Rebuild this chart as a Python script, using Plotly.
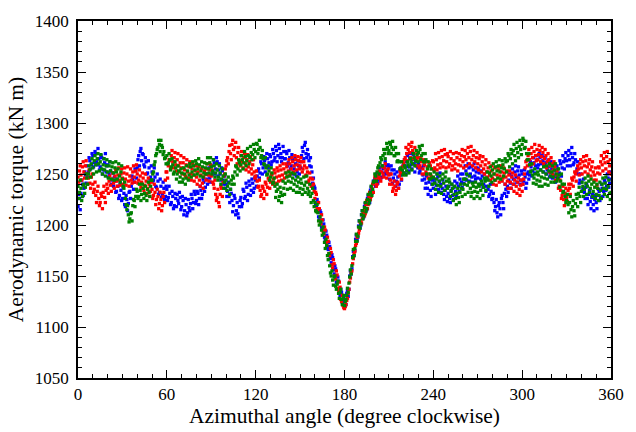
import plotly.graph_objects as go

# Azimuthal angle (degrees): readings at whole degrees and at half degrees
angle = list(range(0, 361))
angle_half = [a + 0.5 for a in range(0, 360)]

torque_blue = [
    1218, 1226, 1231, 1240, 1236, 1249, 1258, 1252, 1263, 1259,
    1268, 1261, 1270, 1259, 1265, 1257, 1266, 1254, 1261, 1252,
    1259, 1250, 1253, 1244, 1238, 1243, 1233, 1238, 1229, 1234,
    1226, 1231, 1218, 1225, 1221, 1233, 1238, 1245, 1242, 1253,
    1256, 1268, 1272, 1263, 1269, 1257, 1262, 1251, 1256, 1247,
    1252, 1244, 1247, 1237, 1243, 1232, 1238, 1230, 1236, 1228,
    1235, 1227, 1231, 1222, 1228, 1219, 1226, 1230, 1221, 1227,
    1218, 1224, 1214, 1220, 1212, 1217, 1221, 1226, 1222, 1230,
    1224, 1231, 1226, 1234, 1230, 1242, 1237, 1245, 1250, 1246,
    1258, 1252, 1261, 1255, 1262, 1254, 1250, 1256, 1244, 1248,
    1240, 1233, 1228, 1235, 1224, 1219, 1226, 1214, 1211, 1218,
    1227, 1221, 1233, 1228, 1237, 1230, 1239, 1234, 1241, 1236,
    1244, 1248, 1255, 1251, 1260, 1256, 1263, 1258, 1265, 1261,
    1267, 1262, 1270, 1266, 1273, 1268, 1275, 1270, 1266, 1272,
    1265, 1270, 1261, 1266, 1258, 1264, 1255, 1260, 1252, 1258,
    1262, 1268, 1272, 1278, 1270, 1274, 1263, 1266, 1252, 1246,
    1236, 1219, 1222, 1205, 1212, 1196, 1201, 1186, 1190, 1176,
    1179, 1163, 1168, 1152, 1157, 1143, 1145, 1131, 1134, 1124,
    1127, 1122, 1136, 1137, 1155, 1157, 1174, 1175, 1190, 1188,
    1204, 1200, 1214, 1208, 1221, 1215, 1229, 1222, 1237, 1233,
    1242, 1238, 1248, 1244, 1252, 1247, 1255, 1251, 1258, 1254,
    1257, 1250, 1254, 1246, 1250, 1243, 1247, 1240, 1249, 1253,
    1251, 1258, 1262, 1257, 1265, 1259, 1264, 1260, 1266, 1258,
    1260, 1253, 1256, 1249, 1245, 1241, 1236, 1242, 1234, 1240,
    1236, 1242, 1239, 1247, 1243, 1240, 1236, 1230, 1234, 1228,
    1231, 1226, 1234, 1229, 1237, 1233, 1241, 1238, 1245, 1242,
    1250, 1245, 1253, 1249, 1256, 1250, 1247, 1254, 1248, 1252,
    1246, 1251, 1245, 1248, 1240, 1244, 1238, 1235, 1230, 1233,
    1226, 1222, 1218, 1212, 1219, 1216, 1226, 1222, 1231, 1235,
    1238, 1244, 1241, 1248, 1245, 1252, 1247, 1253, 1249, 1244,
    1250, 1243, 1247, 1241, 1252, 1249, 1257, 1253, 1261, 1258,
    1264, 1259, 1266, 1260, 1263, 1258, 1261, 1254, 1257, 1251,
    1255, 1249, 1253, 1247, 1255, 1251, 1260, 1256, 1262, 1265,
    1263, 1268, 1264, 1270, 1266, 1261, 1264, 1255, 1250, 1244,
    1242, 1236, 1232, 1237, 1226, 1230, 1223, 1227, 1220, 1225,
    1222, 1229, 1233, 1227, 1236, 1233, 1242, 1238, 1246, 1241,
    1245,
]

torque_blue_half = [
    1230, 1215, 1244, 1229, 1252, 1241, 1247, 1266, 1255, 1270,
    1257, 1272, 1262, 1275, 1254, 1268, 1250, 1265, 1270, 1258,
    1247, 1262, 1240, 1251, 1247, 1232, 1245, 1226, 1241, 1224,
    1237, 1220, 1229, 1214, 1232, 1226, 1248, 1235, 1255, 1246,
    1264, 1258, 1275, 1270, 1259, 1266, 1250, 1263, 1245, 1258,
    1243, 1256, 1238, 1250, 1230, 1245, 1227, 1242, 1225, 1238,
    1224, 1238, 1220, 1233, 1216, 1231, 1218, 1224, 1232, 1215,
    1228, 1210, 1226, 1209, 1225, 1214, 1230, 1216, 1233, 1221,
    1233, 1220, 1238, 1226, 1245, 1233, 1250, 1240, 1256, 1242,
    1249, 1264, 1250, 1266, 1248, 1260, 1244, 1253, 1240, 1236,
    1228, 1242, 1222, 1231, 1213, 1229, 1210, 1222, 1207, 1224,
    1218, 1235, 1226, 1241, 1224, 1243, 1229, 1245, 1232, 1247,
    1238, 1253, 1246, 1262, 1250, 1267, 1252, 1270, 1256, 1269,
    1259, 1274, 1263, 1277, 1262, 1279, 1266, 1262, 1277, 1265,
    1272, 1258, 1273, 1255, 1269, 1250, 1266, 1248, 1263, 1250,
    1256, 1276, 1265, 1281, 1266, 1269, 1258, 1257, 1241, 1238,
    1220, 1225, 1208, 1214, 1198, 1205, 1188, 1194, 1178, 1183,
    1167, 1171, 1156, 1160, 1144, 1149, 1134, 1137, 1124, 1128,
    1121, 1133, 1130, 1150, 1152, 1169, 1170, 1186, 1185, 1199,
    1197, 1210, 1207, 1218, 1214, 1226, 1223, 1234, 1231, 1243,
    1245, 1250, 1241, 1256, 1246, 1258, 1248, 1262, 1250, 1259,
    1245, 1258, 1241, 1254, 1238, 1252, 1236, 1255, 1244, 1258,
    1264, 1250, 1268, 1253, 1270, 1255, 1269, 1252, 1262, 1256,
    1251, 1263, 1244, 1258, 1236, 1248, 1230, 1245, 1228, 1244,
    1245, 1230, 1250, 1235, 1251, 1232, 1244, 1225, 1238, 1223,
    1238, 1222, 1240, 1225, 1243, 1228, 1248, 1233, 1250, 1237,
    1241, 1258, 1244, 1260, 1243, 1257, 1242, 1260, 1245, 1256,
    1255, 1240, 1253, 1237, 1250, 1233, 1245, 1228, 1240, 1225,
    1231, 1214, 1225, 1208, 1222, 1210, 1229, 1216, 1240, 1228,
    1232, 1250, 1236, 1255, 1240, 1258, 1242, 1257, 1240, 1253,
    1240, 1254, 1236, 1250, 1245, 1262, 1248, 1266, 1251, 1268,
    1256, 1270, 1254, 1268, 1252, 1266, 1250, 1263, 1247, 1262,
    1246, 1260, 1242, 1258, 1246, 1263, 1248, 1268, 1255, 1271,
    1258, 1273, 1258, 1276, 1259, 1270, 1252, 1262, 1241, 1250,
    1233, 1245, 1226, 1240, 1220, 1234, 1216, 1230, 1214, 1229,
    1216, 1235, 1224, 1240, 1228, 1244, 1234, 1250, 1237, 1252,
]

torque_red = [
    1247, 1253, 1249, 1257, 1252, 1258, 1250, 1246, 1241, 1247,
    1240, 1235, 1229, 1233, 1226, 1222, 1228, 1232, 1227, 1234,
    1236, 1243, 1239, 1245, 1241, 1248, 1243, 1249, 1244, 1250,
    1246, 1251, 1245, 1250, 1243, 1248, 1244, 1252, 1247, 1253,
    1250, 1244, 1248, 1242, 1246, 1239, 1243, 1236, 1240, 1233,
    1235, 1229, 1232, 1225, 1228, 1221, 1225, 1219, 1232, 1244,
    1252, 1258, 1263, 1268, 1262, 1266, 1259, 1264, 1258, 1261,
    1256, 1261, 1254, 1259, 1252, 1257, 1250, 1255, 1249, 1253,
    1247, 1252, 1244, 1249, 1241, 1247, 1250, 1255, 1249, 1254,
    1248, 1242, 1236, 1230, 1227, 1222, 1230, 1236, 1242, 1250,
    1258, 1266, 1272, 1270, 1279, 1274, 1276, 1266, 1271, 1263,
    1268, 1262, 1266, 1260, 1264, 1257, 1262, 1255, 1259, 1252,
    1248, 1243, 1238, 1234, 1230, 1236, 1233, 1240, 1237, 1244,
    1242, 1249, 1245, 1251, 1247, 1253, 1248, 1254, 1249, 1255,
    1251, 1257, 1253, 1260, 1255, 1262, 1258, 1264, 1259, 1263,
    1258, 1262, 1255, 1258, 1249, 1252, 1244, 1246, 1238, 1240,
    1226, 1230, 1213, 1216, 1201, 1205, 1191, 1195, 1180, 1184,
    1170, 1173, 1158, 1162, 1147, 1151, 1136, 1139, 1125, 1121,
    1118, 1122, 1128, 1137, 1148, 1155, 1167, 1174, 1182, 1190,
    1195, 1203, 1206, 1214, 1211, 1224, 1220, 1232, 1228, 1240,
    1241, 1244, 1240, 1249, 1246, 1252, 1250, 1256, 1253, 1251,
    1249, 1244, 1240, 1236, 1238, 1234, 1242, 1248, 1251, 1257,
    1260, 1266, 1270, 1274, 1271, 1277, 1273, 1270, 1266, 1263,
    1266, 1258, 1262, 1255, 1259, 1252, 1257, 1250, 1258, 1255,
    1262, 1256, 1264, 1259, 1266, 1260, 1267, 1263, 1269, 1262,
    1267, 1260, 1265, 1258, 1263, 1260, 1266, 1259, 1264, 1268,
    1262, 1267, 1264, 1270, 1266, 1272, 1264, 1268, 1262, 1266,
    1260, 1265, 1258, 1262, 1255, 1259, 1252, 1256, 1249, 1253,
    1246, 1250, 1244, 1249, 1254, 1248, 1252, 1246, 1251, 1247,
    1243, 1249, 1242, 1247, 1240, 1244, 1238, 1242, 1235, 1239,
    1233, 1245, 1256, 1263, 1268, 1264, 1270, 1266, 1272, 1268,
    1274, 1269, 1273, 1267, 1271, 1265, 1268, 1262, 1264, 1258,
    1260, 1254, 1257, 1249, 1245, 1238, 1234, 1229, 1225, 1231,
    1227, 1234, 1236, 1240, 1244, 1247, 1250, 1253, 1255, 1260,
    1256, 1262, 1258, 1263, 1257, 1260, 1254, 1257, 1252, 1249,
    1244, 1251, 1256, 1262, 1259, 1265, 1261, 1267, 1262, 1258,
    1250,
]

torque_red_half = [
    1242, 1258, 1244, 1262, 1246, 1263, 1240, 1254, 1236, 1250,
    1232, 1242, 1222, 1238, 1219, 1231, 1216, 1238, 1222, 1240,
    1231, 1248, 1233, 1251, 1236, 1254, 1238, 1256, 1239, 1255,
    1240, 1256, 1239, 1257, 1238, 1255, 1241, 1258, 1242, 1259,
    1241, 1254, 1237, 1251, 1234, 1250, 1231, 1246, 1228, 1242,
    1226, 1240, 1220, 1235, 1216, 1232, 1214, 1228, 1222, 1252,
    1246, 1264, 1256, 1273, 1256, 1271, 1253, 1270, 1252, 1268,
    1250, 1266, 1248, 1264, 1246, 1262, 1244, 1260, 1243, 1258,
    1240, 1257, 1238, 1255, 1236, 1253, 1244, 1260, 1243, 1259,
    1254, 1240, 1244, 1224, 1235, 1218, 1238, 1228, 1248, 1255,
    1263, 1260, 1278, 1264, 1283, 1268, 1281, 1260, 1276, 1258,
    1272, 1256, 1270, 1254, 1269, 1252, 1267, 1250, 1264, 1246,
    1253, 1237, 1244, 1228, 1238, 1226, 1242, 1230, 1246, 1236,
    1250, 1240, 1254, 1241, 1256, 1243, 1258, 1244, 1260, 1246,
    1260, 1248, 1264, 1250, 1266, 1252, 1268, 1254, 1267, 1255,
    1266, 1252, 1262, 1248, 1256, 1242, 1251, 1238, 1245, 1233,
    1232, 1216, 1222, 1204, 1210, 1194, 1198, 1183, 1188, 1172,
    1177, 1161, 1166, 1150, 1155, 1138, 1144, 1127, 1131, 1119,
    1120, 1126, 1133, 1144, 1153, 1162, 1172, 1180, 1188, 1192,
    1203, 1202, 1212, 1209, 1220, 1216, 1228, 1225, 1236, 1232,
    1247, 1238, 1246, 1253, 1243, 1257, 1247, 1260, 1246, 1255,
    1240, 1250, 1233, 1243, 1230, 1240, 1236, 1253, 1245, 1262,
    1264, 1276, 1263, 1279, 1266, 1281, 1265, 1276, 1258, 1270,
    1256, 1265, 1250, 1264, 1250, 1262, 1246, 1261, 1248, 1263,
    1254, 1270, 1254, 1271, 1256, 1273, 1257, 1274, 1256, 1270,
    1257, 1272, 1254, 1270, 1255, 1271, 1253, 1270, 1258, 1274,
    1256, 1273, 1258, 1276, 1260, 1277, 1258, 1273, 1256, 1271,
    1254, 1268, 1252, 1267, 1250, 1264, 1247, 1261, 1244, 1258,
    1240, 1256, 1239, 1257, 1242, 1258, 1243, 1256, 1240, 1253,
    1236, 1253, 1236, 1251, 1233, 1249, 1231, 1246, 1229, 1244,
    1240, 1250, 1262, 1258, 1274, 1259, 1276, 1260, 1279, 1263,
    1264, 1278, 1262, 1276, 1260, 1274, 1256, 1270, 1252, 1266,
    1250, 1262, 1244, 1253, 1236, 1244, 1226, 1238, 1219, 1236,
    1223, 1240, 1230, 1246, 1238, 1252, 1243, 1258, 1249, 1264,
    1250, 1267, 1252, 1268, 1250, 1264, 1248, 1262, 1244, 1256,
    1239, 1257, 1250, 1268, 1253, 1271, 1255, 1272, 1252, 1264,
]

torque_green = [
    1238, 1232, 1236, 1228, 1240, 1237, 1246, 1250, 1254, 1260,
    1256, 1263, 1259, 1265, 1260, 1262, 1255, 1259, 1254, 1258,
    1252, 1258, 1253, 1257, 1251, 1256, 1252, 1255, 1248, 1252,
    1245, 1236, 1226, 1215, 1210, 1206, 1212, 1219, 1224, 1228,
    1233, 1228, 1234, 1230, 1236, 1231, 1229, 1235, 1232, 1238,
    1244, 1252, 1262, 1270, 1276, 1279, 1283, 1276, 1272, 1266,
    1268, 1261, 1264, 1257, 1259, 1252, 1256, 1250, 1253, 1247,
    1251, 1245, 1250, 1246, 1253, 1249, 1257, 1252, 1258, 1254,
    1260, 1255, 1259, 1253, 1257, 1251, 1256, 1260, 1255, 1261,
    1257, 1253, 1258, 1251, 1254, 1247, 1251, 1245, 1248, 1242,
    1244, 1238, 1241, 1235, 1240, 1246, 1252, 1257, 1255, 1261,
    1259, 1264, 1261, 1267, 1263, 1268, 1266, 1271, 1269, 1274,
    1272, 1279, 1274, 1276, 1268, 1265, 1259, 1256, 1250, 1253,
    1247, 1251, 1242, 1238, 1233, 1235, 1228, 1232, 1229, 1236,
    1241, 1247, 1243, 1248, 1242, 1246, 1240, 1244, 1238, 1242,
    1236, 1241, 1235, 1239, 1242, 1236, 1233, 1228, 1231, 1224,
    1222, 1213, 1212, 1200, 1203, 1190, 1192, 1177, 1180, 1166,
    1160, 1150, 1146, 1149, 1140, 1142, 1133, 1134, 1127, 1128,
    1121, 1127, 1138, 1143, 1156, 1160, 1176, 1177, 1191, 1189,
    1204, 1201, 1214, 1209, 1222, 1216, 1230, 1224, 1238, 1235,
    1243, 1248, 1252, 1258, 1261, 1264, 1268, 1270, 1274, 1276,
    1273, 1279, 1276, 1274, 1268, 1270, 1263, 1262, 1256, 1254,
    1251, 1256, 1253, 1259, 1257, 1262, 1260, 1266, 1263, 1269,
    1271, 1274, 1268, 1270, 1262, 1264, 1255, 1258, 1250, 1246,
    1247, 1241, 1245, 1239, 1243, 1238, 1245, 1241, 1247, 1243,
    1238, 1242, 1233, 1236, 1230, 1226, 1231, 1227, 1232, 1236,
    1235, 1240, 1245, 1239, 1242, 1236, 1232, 1238, 1233, 1237,
    1232, 1238, 1234, 1240, 1237, 1243, 1246, 1244, 1251, 1248,
    1254, 1250, 1257, 1253, 1258, 1252, 1256, 1259, 1255, 1262,
    1263, 1268, 1265, 1270, 1273, 1268, 1275, 1271, 1277, 1274,
    1279, 1283, 1276, 1270, 1264, 1259, 1253, 1249, 1246, 1250,
    1244, 1249, 1243, 1247, 1252, 1246, 1250, 1245, 1253, 1248,
    1252, 1247, 1254, 1250, 1246, 1249, 1243, 1240, 1233, 1228,
    1224, 1220, 1222, 1215, 1218, 1214, 1221, 1226, 1231, 1228,
    1233, 1238, 1235, 1241, 1238, 1243, 1236, 1240, 1233, 1237,
    1230, 1236, 1229, 1234, 1240, 1236, 1241, 1235, 1238, 1231,
    1232,
]

torque_green_half = [
    1226, 1244, 1224, 1239, 1231, 1250, 1240, 1258, 1247, 1265,
    1250, 1268, 1252, 1270, 1253, 1269, 1250, 1265, 1248, 1264,
    1246, 1262, 1245, 1261, 1244, 1262, 1245, 1260, 1242, 1258,
    1238, 1242, 1220, 1219, 1203, 1211, 1204, 1225, 1218, 1235,
    1226, 1240, 1224, 1240, 1226, 1238, 1224, 1242, 1228, 1244,
    1250, 1259, 1268, 1274, 1283, 1272, 1278, 1269, 1265, 1260,
    1260, 1270, 1254, 1265, 1250, 1262, 1245, 1258, 1242, 1255,
    1242, 1256, 1240, 1258, 1244, 1260, 1247, 1262, 1249, 1263,
    1250, 1265, 1248, 1262, 1247, 1261, 1250, 1266, 1251, 1266,
    1250, 1264, 1247, 1260, 1244, 1258, 1240, 1255, 1236, 1250,
    1234, 1247, 1230, 1244, 1248, 1240, 1258, 1249, 1264, 1253,
    1268, 1255, 1272, 1258, 1275, 1260, 1277, 1264, 1279, 1266,
    1280, 1270, 1283, 1266, 1273, 1260, 1266, 1249, 1258, 1244,
    1256, 1241, 1246, 1227, 1240, 1224, 1237, 1222, 1243, 1230,
    1251, 1235, 1252, 1236, 1251, 1234, 1250, 1232, 1247, 1232,
    1245, 1230, 1247, 1232, 1248, 1230, 1240, 1222, 1236, 1218,
    1214, 1220, 1204, 1208, 1195, 1198, 1183, 1186, 1170, 1172,
    1153, 1155, 1141, 1150, 1137, 1145, 1128, 1137, 1122, 1131,
    1125, 1131, 1134, 1149, 1152, 1168, 1170, 1184, 1184, 1198,
    1197, 1210, 1206, 1217, 1213, 1225, 1221, 1232, 1229, 1242,
    1250, 1243, 1256, 1250, 1266, 1258, 1274, 1265, 1280, 1270,
    1281, 1270, 1282, 1268, 1276, 1262, 1270, 1255, 1262, 1249,
    1258, 1249, 1262, 1251, 1265, 1254, 1270, 1258, 1273, 1262,
    1277, 1264, 1278, 1262, 1270, 1250, 1262, 1245, 1255, 1240,
    1252, 1235, 1250, 1232, 1248, 1231, 1250, 1234, 1252, 1236,
    1245, 1228, 1240, 1224, 1238, 1220, 1236, 1222, 1240, 1228,
    1245, 1230, 1250, 1232, 1248, 1228, 1241, 1226, 1242, 1228,
    1240, 1226, 1243, 1229, 1246, 1234, 1252, 1238, 1257, 1242,
    1260, 1244, 1262, 1246, 1264, 1245, 1263, 1248, 1265, 1252,
    1270, 1257, 1274, 1260, 1279, 1263, 1281, 1266, 1283, 1269,
    1285, 1275, 1282, 1264, 1270, 1252, 1260, 1241, 1255, 1240,
    1252, 1238, 1254, 1238, 1257, 1240, 1258, 1239, 1260, 1242,
    1258, 1242, 1260, 1243, 1255, 1237, 1250, 1232, 1240, 1222,
    1230, 1212, 1228, 1208, 1224, 1209, 1230, 1218, 1237, 1222,
    1242, 1228, 1246, 1230, 1248, 1232, 1245, 1228, 1242, 1226,
    1240, 1224, 1242, 1226, 1246, 1230, 1247, 1228, 1244, 1225,
]

x_ticks = [0, 60, 120, 180, 240, 300, 360]
y_ticks = [1050, 1100, 1150, 1200, 1250, 1300, 1350, 1400]

series = [
    ("blue", torque_blue, torque_blue_half, "#0000ff"),
    ("red", torque_red, torque_red_half, "#ff0000"),
    ("green", torque_green, torque_green_half, "#008000"),
]

FONT = "Liberation Serif"

fig = go.Figure()
for name, vals, vals_half, col in series:
    fig.add_trace(go.Scatter(
        x=angle + angle_half, y=vals + vals_half, mode="markers", name=name,
        marker=dict(color=col, size=3.3, symbol="square", line=dict(width=0)),
        showlegend=False,
    ))

axis_common = dict(
    showline=True, linecolor="black", linewidth=1.5, mirror="ticks",
    ticks="inside", ticklen=8, tickwidth=1.3, tickcolor="black",
    showgrid=False, zeroline=False,
    tickfont=dict(family=FONT, size=17, color="black"),
)

fig.update_xaxes(
    range=[0, 360], tickvals=x_ticks, ticktext=[str(v) for v in x_ticks],
    minor=dict(dtick=10, tick0=0, ticks="inside", ticklen=4.5, tickwidth=1.1, tickcolor="black"),
    title=dict(text="Azimuthal angle (degree clockwise)", font=dict(family=FONT, size=21.5, color="black"), standoff=1),
    ticklabelstandoff=0,
    **axis_common,
)
fig.update_yaxes(
    range=[1050, 1400], tickvals=y_ticks, ticktext=[str(v) for v in y_ticks],
    minor=dict(dtick=10, tick0=1050, ticks="inside", ticklen=4.5, tickwidth=1.1, tickcolor="black"),
    title=dict(text="Aerodynamic torque (kN m)", font=dict(family=FONT, size=21.5, color="black"), standoff=5),
    ticklabelstandoff=4,
    **axis_common,
)

fig.update_layout(
    width=636, height=432,
    margin=dict(l=78, r=12, t=16, b=41, pad=0),
    paper_bgcolor="white", plot_bgcolor="white",
)

fig.write_html("out.html")
